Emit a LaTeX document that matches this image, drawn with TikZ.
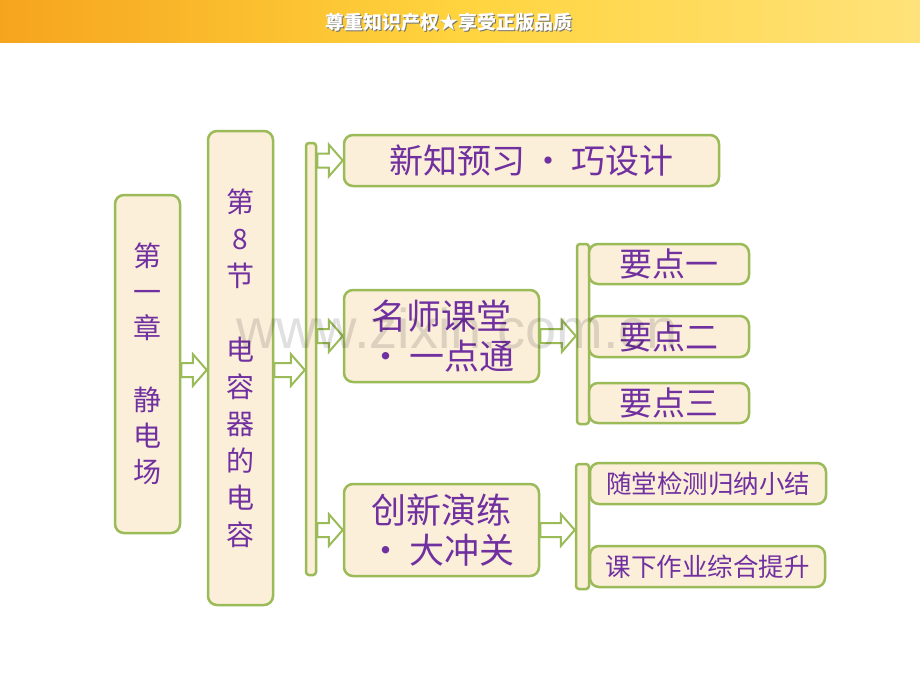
\documentclass[tikz,border=0pt]{standalone}
\usepackage{fontspec}
\setmainfont{Noto Sans CJK SC}
\newfontfamily\wmfont{Liberation Sans}
\usetikzlibrary{calc}
\definecolor{bordergreen}{HTML}{9BBB59}
\definecolor{boxfill}{HTML}{FBEFD9}
\definecolor{txtpurple}{HTML}{7030A0}
\definecolor{bannerL}{HTML}{F6A41E}
\definecolor{bannerM}{HTML}{FFD43E}
\definecolor{bannerR}{HTML}{FFE27A}
\newcommand\blockarrow[2]{%
  \draw[harrow] let \p1=#1, \p2=#2 in
    (\x1,\y1-7pt) -- (\x2-14pt,\y1-7pt) -- (\x2-14pt,\y1-16pt) -- (\x2,\y1)
    -- (\x2-14pt,\y1+16pt) -- (\x2-14pt,\y1+7pt) -- (\x1,\y1+7pt) -- cycle;}
\begin{document}
\begin{tikzpicture}[x=1pt,y=-1pt,
  box/.style={draw=bordergreen, line width=2.5pt, fill=boxfill, rounded corners=9pt, inner sep=0pt, text=txtpurple, align=center},
  bar/.style={draw=bordergreen, line width=2.5pt, fill=boxfill, rounded corners=3pt, inner sep=0pt},
  harrow/.style={draw=bordergreen, line width=2pt, fill=white, line join=miter}]
\useasboundingbox (0,0) rectangle (920,690);
\fill[white] (0,0) rectangle (920,690);
% banner
\shade[left color=bannerL, right color=bannerR, middle color=bannerM] (0,0) rectangle (920,43);
\node[text=black!55, font=\fontsize{19}{19}\selectfont\bfseries] (bts) at (450,23) {尊重知识产权★享受正版品质};
\node[text=white, font=\fontsize{19}{19}\selectfont\bfseries] (bt) at (449,22) {尊重知识产权★享受正版品质};

% left boxes
\node[box, minimum width=65pt, minimum height=338pt, font=\fontsize{28}{36}\selectfont] (b1) at (147.5,364)
  {第\\一\\章\\[36pt]静\\电\\场};
\node[box, minimum width=65pt, minimum height=474pt, font=\fontsize{28}{37}\selectfont] (b2) at (240.5,368)
  {第\\8\\节\\[37pt]电\\容\\器\\的\\电\\容};
\node[bar, minimum width=10pt, minimum height=432pt] (bar1) at (311,359) {};

% middle boxes
\node[box, minimum width=375pt, minimum height=51pt, font=\fontsize{34}{38}\selectfont] (na) at (531.5,160.5)
  {新知预习\,•\,巧设计};
\node[box, minimum width=195pt, minimum height=92pt, font=\fontsize{35}{40}\selectfont] (nb) at (441.5,336)
  {名师课堂\\•\,一点通};
\node[box, minimum width=195pt, minimum height=92pt, font=\fontsize{35}{40}\selectfont] (nc) at (441.5,530)
  {创新演练\\•\,大冲关};

% right groups
\node[bar, minimum width=12pt, minimum height=180pt] (bar2) at (583,334) {};
\node[box, minimum width=160pt, minimum height=40pt, font=\fontsize{33}{34}\selectfont] (p1) at (669,264) {要点一};
\node[box, minimum width=160pt, minimum height=41pt, font=\fontsize{33}{34}\selectfont] (p2) at (669,336.5) {要点二};
\node[box, minimum width=160pt, minimum height=40pt, font=\fontsize{33}{34}\selectfont] (p3) at (669,403) {要点三};

\node[bar, minimum width=13pt, minimum height=125pt] (bar3) at (582.5,526.5) {};
\node[box, minimum width=236pt, minimum height=41pt, font=\fontsize{25.5}{28}\selectfont] (q1) at (708,483.5) {随堂检测归纳小结};
\node[box, minimum width=235pt, minimum height=41pt, font=\fontsize{25.5}{28}\selectfont] (q2) at (707.5,566.5) {课下作业综合提升};

% arrows
\blockarrow{(b1.east |- 0,370)}{(b2.west |- 0,370)}
\blockarrow{(b2.east |- 0,370)}{(bar1.west |- 0,370)}
\blockarrow{(bar1.east |- na.west)}{(na.west)}
\blockarrow{(bar1.east |- nb.west)}{(nb.west)}
\blockarrow{(bar1.east |- nc.west)}{(nc.west)}
\blockarrow{(nb.east)}{(bar2.west |- nb.east)}
\blockarrow{(nc.east)}{(bar3.west |- nc.east)}

% watermark
\node[anchor=base, text=black, text opacity=0.12, font=\wmfont\fontsize{56}{56}\selectfont] (wm) at (457,348) {www.zixin.com.cn};
\end{tikzpicture}
\end{document}
